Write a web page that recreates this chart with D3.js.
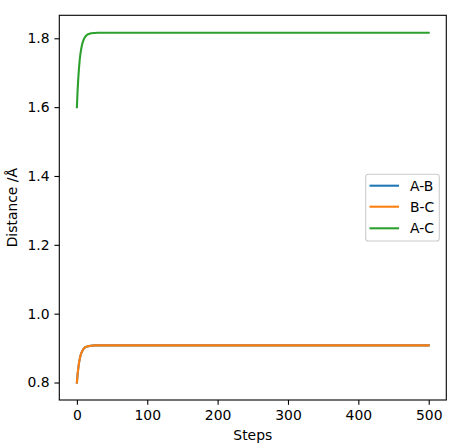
<!DOCTYPE html>
<html><head><meta charset="utf-8">
<script src="https://cdn.jsdelivr.net/npm/d3@7"></script>
<style>body{margin:0;background:#fff}svg{display:block}text{font-family:"DejaVu Sans",sans-serif}</style>
</head><body>
<script>
const steps = [0,1,2,3,4,5,6,8,10,12,15,20,25,30,40,50,100,150,200,250,300,350,400,450,500];
const distAB = [0.800,0.824,0.842,0.857,0.868,0.877,0.884,0.893,0.899,0.903,0.905,0.907,0.9078,0.908,0.908,0.908,0.908,0.908,0.908,0.908,0.908,0.908,0.908,0.908,0.908];
const distBC = [0.800,0.824,0.842,0.857,0.868,0.877,0.884,0.893,0.899,0.903,0.905,0.907,0.9078,0.908,0.908,0.908,0.908,0.908,0.908,0.908,0.908,0.908,0.908,0.908,0.908];
const distAC = [1.600,1.648,1.685,1.714,1.737,1.754,1.768,1.787,1.798,1.805,1.811,1.8145,1.8155,1.816,1.816,1.816,1.816,1.816,1.816,1.816,1.816,1.816,1.816,1.816,1.816];
const seriesNames = ["A-B","B-C","A-C"];
const colors = ["#1f77b4","#ff7f0e","#2ca02c"];
const xTicks = [0,100,200,300,400,500];
const yTicks = [0.8,1.0,1.2,1.4,1.6,1.8];

const W=469,H=448;
const m={left:59.3,top:15.3,right:446.3,bottom:400};
const svg=d3.select("body").append("svg").attr("width",W).attr("height",H);
const x=d3.scaleLinear().domain([-25,525]).range([m.left,m.right]);
const y=d3.scaleLinear().domain([0.7492,1.8668]).range([m.bottom,m.top]);

const series=[distAB,distBC,distAC];
const line=d3.line().x((d,i)=>x(steps[i])).y(d=>y(d));
series.forEach((s,k)=>{
  svg.append("path").datum(s).attr("d",line).attr("fill","none")
    .attr("stroke",colors[k]).attr("stroke-width",2.08).attr("stroke-linejoin","round").attr("stroke-linecap","square");
});

const fs=13.9;
const xAxis=d3.axisBottom(x).tickValues(xTicks).tickSize(4.86).tickPadding(4.86).tickFormat(d3.format("d"));
const gx=svg.append("g").attr("transform",`translate(0,${m.bottom})`).call(xAxis);
const yAxis=d3.axisLeft(y).tickValues(yTicks).tickSize(4.86).tickPadding(4.86).tickFormat(d3.format(".1f"));
const gy=svg.append("g").attr("transform",`translate(${m.left},0)`).call(yAxis);
[gx,gy].forEach(g=>{
  g.select(".domain").remove();
  g.selectAll(".tick line").attr("stroke","#000").attr("stroke-width",1.1);
  g.selectAll(".tick text").attr("fill","#000").style("font-size",fs+"px").style("font-family","DejaVu Sans");
});
svg.append("rect").attr("x",m.left).attr("y",m.top).attr("width",m.right-m.left).attr("height",m.bottom-m.top)
  .attr("fill","none").attr("stroke","#000").attr("stroke-width",1.1);

svg.append("text").attr("x",(m.left+m.right)/2).attr("y",440).attr("text-anchor","middle")
  .style("font-size",fs+"px").text("Steps");
svg.append("text").attr("transform",`translate(17,${(m.top+m.bottom)/2}) rotate(-90)`).attr("text-anchor","middle")
  .style("font-size",fs+"px").text("Distance /Å");

const lg=svg.append("g");
lg.append("rect").attr("x",365.7).attr("y",174.3).attr("width",73.6).attr("height",66.7).attr("rx",2.8)
  .attr("fill","#fff").attr("fill-opacity",0.8).attr("stroke","#cccccc").attr("stroke-width",1.1);
const rowY=[185.7,206.7,228.3];
seriesNames.forEach((n,k)=>{
  lg.append("line").attr("x1",369.5).attr("x2",399).attr("y1",rowY[k]).attr("y2",rowY[k])
    .attr("stroke",colors[k]).attr("stroke-width",2.08);
  lg.append("text").attr("x",410).attr("y",rowY[k]).attr("dy","0.36em").style("font-size",fs+"px").text(n);
});
</script>
</body></html>
